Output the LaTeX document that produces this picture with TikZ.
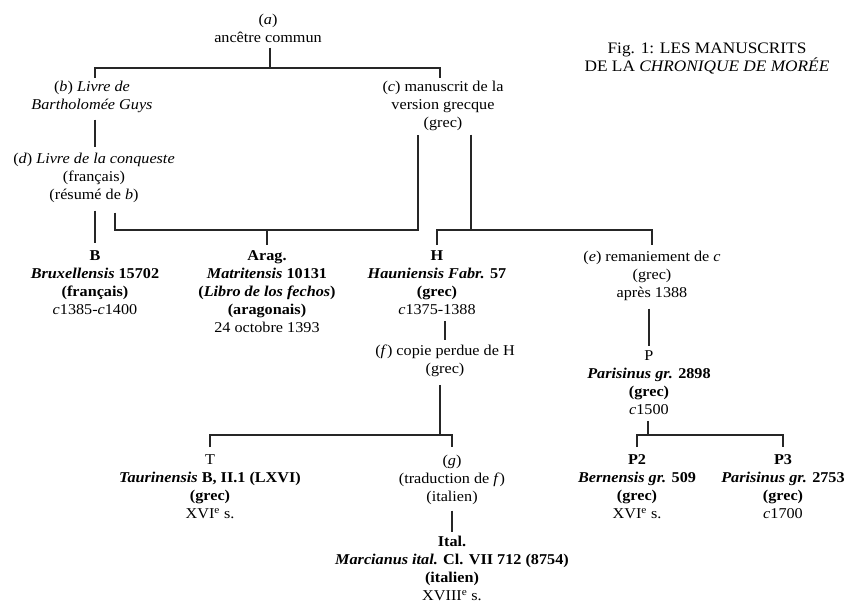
\documentclass[tikz,border=0pt]{standalone}
\usepackage{fontspec}
\setmainfont{Liberation Serif}[FakeStretch=1.08]
\begin{document}
\begin{tikzpicture}[x=1pt,y=-1pt,
  txt/.style={inner sep=0pt, outer sep=0pt, align=center, anchor=north,
    font=\fontsize{15}{18}\selectfont},
  link/.style={line width=1.1pt, draw=black!85}]
\useasboundingbox (0,0) rectangle (847,602);

% ---- texts ----
\node[txt] (a) at (268,14) {(\textit{a})\\ancêtre commun};
\node[txt, font=\fontsize{16}{18}\selectfont] (title) at (707,43) {Fig. 1: LES MANUSCRITS\\DE LA \textit{CHRONIQUE DE MORÉE}};
\node[txt] (b) at (92,81) {(\textit{b}) \textit{Livre de}\\\textit{Bartholomée Guys}};
\node[txt] (c) at (443,81) {(\textit{c}) manuscrit de la\\version grecque\\(grec)};
\node[txt] (d) at (94,153) {(\textit{d}) \textit{Livre de la conqueste}\\(français)\\(résumé de \textit{b})};
\node[txt] (B) at (95,251) {\textbf{B}\\\textbf{\textit{Bruxellensis} 15702}\\\textbf{(français)}\\\textit{c}1385-\textit{c}1400};
\node[txt] (arag) at (267,251) {\textbf{Arag.}\\\textbf{\textit{Matritensis} 10131}\\\textbf{(\textit{Libro de los fechos})}\\\textbf{(aragonais)}\\24 octobre 1393};
\node[txt] (H) at (437,251) {\textbf{H}\\\textbf{\textit{Hauniensis Fabr.} 57}\\\textbf{(grec)}\\\textit{c}1375-1388};
\node[txt] (e) at (652,251) {(\textit{e}) remaniement de \textit{c}\\(grec)\\après 1388};
\node[txt] (f) at (445,345) {(\textit{f}) copie perdue de H\\(grec)};
\node[txt] (P) at (649,351) {P\\\textbf{\textit{Parisinus gr.} 2898}\\\textbf{(grec)}\\\textit{c}1500};
\node[txt] (T) at (210,455) {T\\\textbf{\textit{Taurinensis} B, II.1 (LXVI)}\\\textbf{(grec)}\\XVI\textsuperscript{e} s.};
\node[txt] (g) at (452,455) {(\textit{g})\\(traduction de \textit{f})\\(italien)};
\node[txt] (ital) at (452,536) {\textbf{Ital.}\\\textbf{\textit{Marcianus ital.} Cl. VII 712 (8754)}\\\textbf{(italien)}\\XVIII\textsuperscript{e} s.};
\node[txt] (P2) at (637,455) {\textbf{P2}\\\textbf{\textit{Bernensis gr.} 509}\\\textbf{(grec)}\\XVI\textsuperscript{e} s.};
\node[txt] (P3) at (783,455) {\textbf{P3}\\\textbf{\textit{Parisinus gr.} 2753}\\\textbf{(grec)}\\\textit{c}1700};

% ---- junction points ----
\coordinate (ja) at (270,68);
\coordinate (jab) at (95,68);
\coordinate (jac) at (440,68);
\coordinate (jd) at (115,230);
\coordinate (jcl) at (418,230);
\coordinate (jarag) at (267,230);
\coordinate (jcr) at (471,230);
\coordinate (jH) at (437,230);
\coordinate (je) at (652,230);
\coordinate (jHf) at (445,330);
\coordinate (jf) at (440,435);
\coordinate (jT) at (210,435);
\coordinate (jg) at (452,435);
\coordinate (jP) at (648,435);
\coordinate (jP2) at (637,435);
\coordinate (jP3) at (783,435);

% ---- stemma lines ----
% (a) to (b) and (c)
\draw[link] ([yshift=-5pt]a.south -| ja) -- (ja);
\draw[link] ([yshift=3pt]b.north -| jab) -- (jab) -- (jac) -- ([yshift=3pt]c.north -| jac);
% (b) to (d), (d) to B
\draw[link] ([yshift=-7pt]b.south -| jab) -- ([yshift=6pt]d.north -| jab);
\draw[link] ([yshift=-8pt]d.south -| jab) -- ([yshift=8pt]B.north);
% (d) and (c) to Arag.
\draw[link] ([yshift=-10pt]d.south -| jd) -- (jd) -- (jcl) -- ([yshift=-4pt]c.south -| jcl);
\draw[link] (jarag) -- ([yshift=6pt]arag.north);
% (c) to H and (e)
\draw[link] ([yshift=-4pt]c.south -| jcr) -- (jcr);
\draw[link] ([yshift=6pt]H.north -| jH) -- (jH) -- (je) -- ([yshift=6pt]e.north -| je);
% H to (f)
\draw[link] ([yshift=-6pt]H.south -| jHf) -- ([yshift=5pt]f.north -| jHf);
% (f) to T and (g)
\draw[link] ([yshift=-8pt]f.south -| jf) -- (jf);
\draw[link] ([yshift=8pt]T.north) -- (jT) -- (jg) -- ([yshift=8pt]g.north);
% (g) to Ital.
\draw[link] ([yshift=-6pt]g.south) -- ([yshift=4pt]ital.north);
% (e) to P
\draw[link] ([yshift=-8pt]e.south -| P) -- ([yshift=5pt]P.north);
% P to P2 and P3
\draw[link] ([yshift=-6pt]P.south -| jP) -- (jP);
\draw[link] ([yshift=8pt]P2.north) -- (jP2) -- (jP3) -- ([yshift=8pt]P3.north);
\end{tikzpicture}
\end{document}
